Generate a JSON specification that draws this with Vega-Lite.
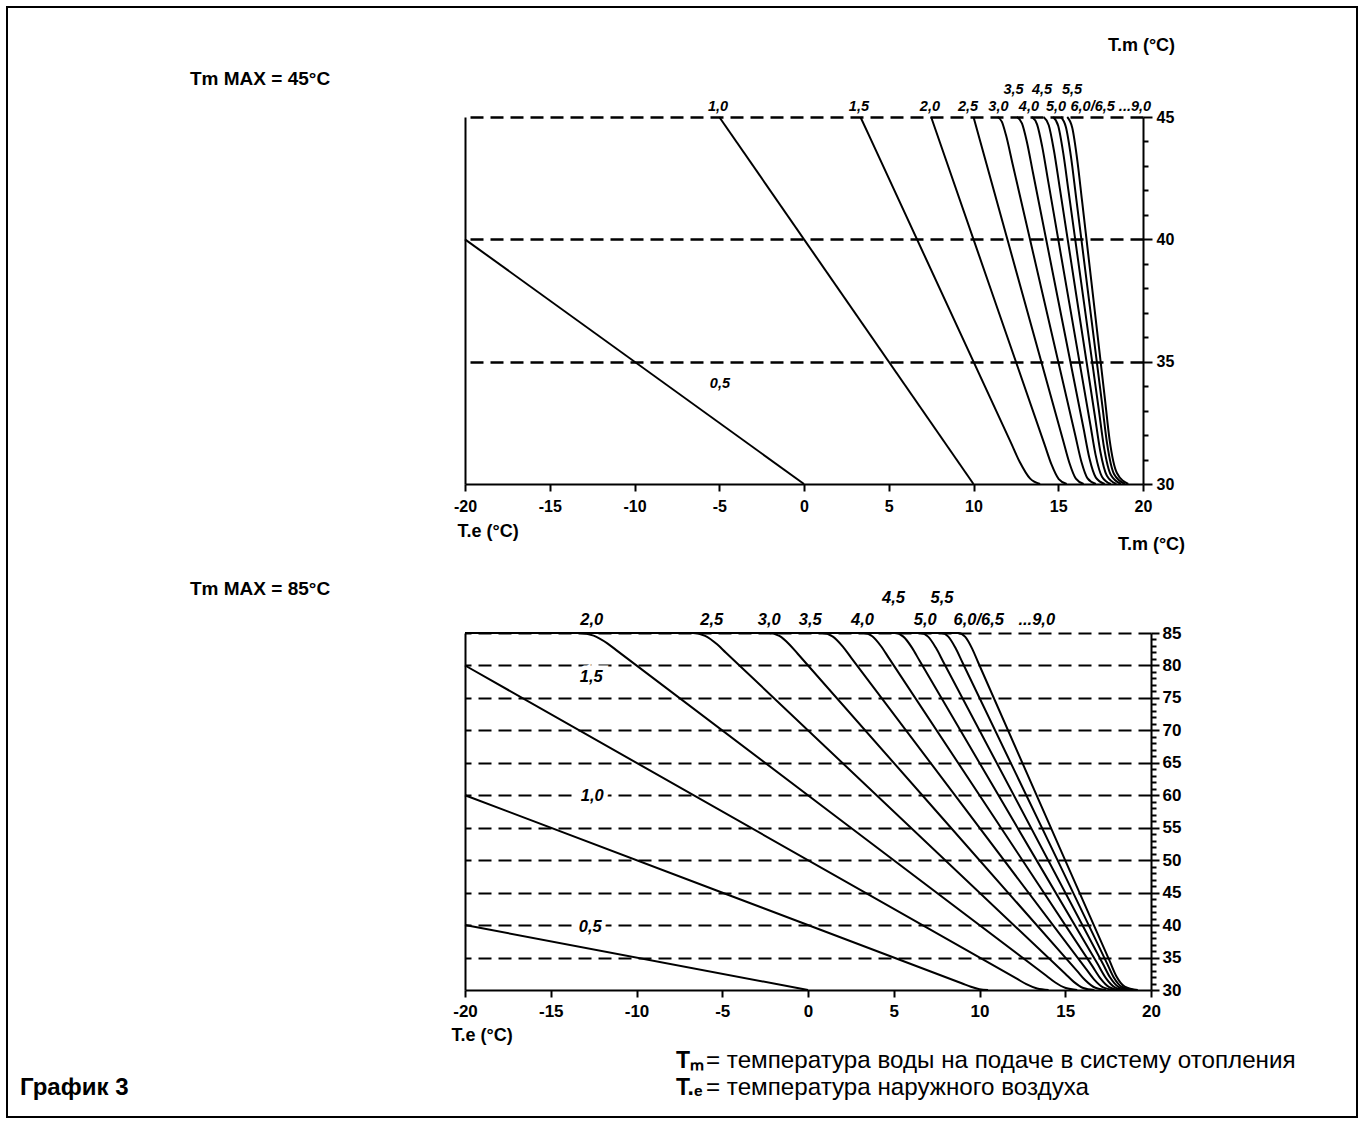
{
  "$schema": "https://vega.github.io/schema/vega-lite/v6.json",
  "padding": {"left": 6, "top": 6, "right": 6, "bottom": 6},
  "background": "white",
  "config": {"view": {"stroke": null}, "font": "Liberation Sans"},
  "datasets": {
    "top": [
      {"k": "0,5", "te": -20, "tm": 40}, {"k": "0,5", "te": 0, "tm": 30},
      {"k": "1,0", "te": -5, "tm": 45}, {"k": "1,0", "te": 10, "tm": 30},
      {"k": "1,5", "te": 3.33, "tm": 45}, {"k": "1,5", "te": 3.8, "tm": 44.3}, {"k": "1,5", "te": 12.2, "tm": 31.7}, {"k": "1,5", "te": 12.73, "tm": 30.9}, {"k": "1,5", "te": 13.33, "tm": 30.23}, {"k": "1,5", "te": 13.93, "tm": 30},
      {"k": "2,0", "te": 7.5, "tm": 45}, {"k": "2,0", "te": 8.0, "tm": 44.0}, {"k": "2,0", "te": 14.2, "tm": 31.6}, {"k": "2,0", "te": 14.6, "tm": 30.8}, {"k": "2,0", "te": 15.03, "tm": 30.2}, {"k": "2,0", "te": 15.5, "tm": 30},
      {"k": "2,5", "te": 10, "tm": 45}, {"k": "2,5", "te": 10.4, "tm": 44.0}, {"k": "2,5", "te": 15.3, "tm": 31.75}, {"k": "2,5", "te": 15.65, "tm": 30.88}, {"k": "2,5", "te": 16.04, "tm": 30.22}, {"k": "2,5", "te": 16.5, "tm": 30},
      {"k": "3,0", "te": 11.42, "tm": 45}, {"k": "3,0", "te": 11.67, "tm": 44.81}, {"k": "3,0", "te": 11.92, "tm": 44.25}, {"k": "3,0", "te": 12.3, "tm": 43.1}, {"k": "3,0", "te": 16.0, "tm": 32.0}, {"k": "3,0", "te": 16.37, "tm": 30.9}, {"k": "3,0", "te": 16.73, "tm": 30.23}, {"k": "3,0", "te": 17.22, "tm": 30},
      {"k": "3,5", "te": 12.56, "tm": 45}, {"k": "3,5", "te": 12.86, "tm": 44.74}, {"k": "3,5", "te": 13.16, "tm": 43.95}, {"k": "3,5", "te": 13.5, "tm": 42.75}, {"k": "3,5", "te": 16.5, "tm": 32.25}, {"k": "3,5", "te": 16.84, "tm": 31.05}, {"k": "3,5", "te": 17.22, "tm": 30.26}, {"k": "3,5", "te": 17.74, "tm": 30},
      {"k": "4,0", "te": 13.45, "tm": 45}, {"k": "4,0", "te": 13.75, "tm": 44.7}, {"k": "4,0", "te": 14.05, "tm": 43.8}, {"k": "4,0", "te": 14.4, "tm": 42.4}, {"k": "4,0", "te": 16.9, "tm": 32.4}, {"k": "4,0", "te": 17.2, "tm": 31.2}, {"k": "4,0", "te": 17.58, "tm": 30.3}, {"k": "4,0", "te": 18.1, "tm": 30},
      {"k": "4,5", "te": 14.14, "tm": 45}, {"k": "4,5", "te": 14.44, "tm": 44.66}, {"k": "4,5", "te": 14.74, "tm": 43.65}, {"k": "4,5", "te": 15.1, "tm": 42.05}, {"k": "4,5", "te": 17.15, "tm": 32.83}, {"k": "4,5", "te": 17.48, "tm": 31.34}, {"k": "4,5", "te": 17.87, "tm": 30.34}, {"k": "4,5", "te": 18.43, "tm": 30},
      {"k": "5,0", "te": 14.7, "tm": 45}, {"k": "5,0", "te": 15.0, "tm": 44.63}, {"k": "5,0", "te": 15.3, "tm": 43.5}, {"k": "5,0", "te": 15.6, "tm": 42.0}, {"k": "5,0", "te": 17.4, "tm": 33.0}, {"k": "5,0", "te": 17.7, "tm": 31.5}, {"k": "5,0", "te": 18.1, "tm": 30.38}, {"k": "5,0", "te": 18.7, "tm": 30},
      {"k": "5,5", "te": 15.15, "tm": 45}, {"k": "5,5", "te": 15.45, "tm": 44.59}, {"k": "5,5", "te": 15.75, "tm": 43.38}, {"k": "5,5", "te": 16.05, "tm": 41.73}, {"k": "5,5", "te": 17.6, "tm": 33.2}, {"k": "5,5", "te": 17.88, "tm": 31.66}, {"k": "5,5", "te": 18.29, "tm": 30.41}, {"k": "5,5", "te": 18.93, "tm": 30},
      {"k": "6,0", "te": 15.53, "tm": 45}, {"k": "6,0", "te": 15.83, "tm": 44.55}, {"k": "6,0", "te": 16.13, "tm": 43.2}, {"k": "6,0", "te": 16.4, "tm": 41.6}, {"k": "6,0", "te": 17.75, "tm": 33.5}, {"k": "6,0", "te": 18.03, "tm": 31.8}, {"k": "6,0", "te": 18.46, "tm": 30.45}, {"k": "6,0", "te": 19.13, "tm": 30}
    ],
    "bottom": [
      {"k": "0,5", "te": -20, "tm": 40}, {"k": "0,5", "te": 0, "tm": 30},
      {"k": "1,0", "te": -20, "tm": 60}, {"k": "1,0", "te": 9.0, "tm": 31.0}, {"k": "1,0", "te": 9.5, "tm": 30.5}, {"k": "1,0", "te": 10.0, "tm": 30.13}, {"k": "1,0", "te": 10.5, "tm": 30},
      {"k": "1,5", "te": -20, "tm": 80}, {"k": "1,5", "te": 12.2, "tm": 31.7}, {"k": "1,5", "te": 12.73, "tm": 30.9}, {"k": "1,5", "te": 13.36, "tm": 30.23}, {"k": "1,5", "te": 14.03, "tm": 30},
      {"k": "2,0", "te": -20, "tm": 85}, {"k": "2,0", "te": -13.3, "tm": 85}, {"k": "2,0", "te": -12.5, "tm": 84.6}, {"k": "2,0", "te": -11.7, "tm": 83.4}, {"k": "2,0", "te": -11.2, "tm": 82.4}, {"k": "2,0", "te": 13.9, "tm": 32.2}, {"k": "2,0", "te": 14.4, "tm": 31.2}, {"k": "2,0", "te": 15.03, "tm": 30.3}, {"k": "2,0", "te": 15.7, "tm": 30},
      {"k": "2,5", "te": -20, "tm": 85}, {"k": "2,5", "te": -6.7, "tm": 85}, {"k": "2,5", "te": -6.0, "tm": 84.56}, {"k": "2,5", "te": -5.3, "tm": 83.25}, {"k": "2,5", "te": -4.8, "tm": 82.0}, {"k": "2,5", "te": 15.0, "tm": 32.5}, {"k": "2,5", "te": 15.5, "tm": 31.25}, {"k": "2,5", "te": 16.05, "tm": 30.31}, {"k": "2,5", "te": 16.7, "tm": 30},
      {"k": "3,0", "te": -20, "tm": 85}, {"k": "3,0", "te": -2.27, "tm": 85}, {"k": "3,0", "te": -1.67, "tm": 84.55}, {"k": "3,0", "te": -1.07, "tm": 83.2}, {"k": "3,0", "te": -0.6, "tm": 81.8}, {"k": "3,0", "te": 15.7, "tm": 32.9}, {"k": "3,0", "te": 16.17, "tm": 31.5}, {"k": "3,0", "te": 16.72, "tm": 30.38}, {"k": "3,0", "te": 17.37, "tm": 30},
      {"k": "3,5", "te": -20, "tm": 85}, {"k": "3,5", "te": 0.83, "tm": 85}, {"k": "3,5", "te": 1.43, "tm": 84.48}, {"k": "3,5", "te": 2.03, "tm": 82.9}, {"k": "3,5", "te": 2.5, "tm": 81.25}, {"k": "3,5", "te": 16.2, "tm": 33.3}, {"k": "3,5", "te": 16.69, "tm": 31.59}, {"k": "3,5", "te": 17.21, "tm": 30.39}, {"k": "3,5", "te": 17.84, "tm": 30},
      {"k": "4,0", "te": -20, "tm": 85}, {"k": "4,0", "te": 3.25, "tm": 85}, {"k": "4,0", "te": 3.75, "tm": 84.5}, {"k": "4,0", "te": 4.25, "tm": 83.0}, {"k": "4,0", "te": 4.7, "tm": 81.2}, {"k": "4,0", "te": 16.6, "tm": 33.6}, {"k": "4,0", "te": 17.05, "tm": 31.8}, {"k": "4,0", "te": 17.56, "tm": 30.45}, {"k": "4,0", "te": 18.2, "tm": 30},
      {"k": "4,5", "te": -20, "tm": 85}, {"k": "4,5", "te": 5.06, "tm": 85}, {"k": "4,5", "te": 5.56, "tm": 84.44}, {"k": "4,5", "te": 6.06, "tm": 82.75}, {"k": "4,5", "te": 6.5, "tm": 80.75}, {"k": "4,5", "te": 16.9, "tm": 33.95}, {"k": "4,5", "te": 17.38, "tm": 31.79}, {"k": "4,5", "te": 17.87, "tm": 30.45}, {"k": "4,5", "te": 18.53, "tm": 30},
      {"k": "5,0", "te": -20, "tm": 85}, {"k": "5,0", "te": 6.55, "tm": 85}, {"k": "5,0", "te": 7.0, "tm": 84.44}, {"k": "5,0", "te": 7.45, "tm": 82.75}, {"k": "5,0", "te": 7.9, "tm": 80.5}, {"k": "5,0", "te": 17.2, "tm": 34.0}, {"k": "5,0", "te": 17.6, "tm": 32.0}, {"k": "5,0", "te": 18.1, "tm": 30.5}, {"k": "5,0", "te": 18.8, "tm": 30},
      {"k": "5,5", "te": -20, "tm": 85}, {"k": "5,5", "te": 7.78, "tm": 85}, {"k": "5,5", "te": 8.18, "tm": 84.45}, {"k": "5,5", "te": 8.58, "tm": 82.8}, {"k": "5,5", "te": 9.0, "tm": 80.5}, {"k": "5,5", "te": 17.45, "tm": 34.03}, {"k": "5,5", "te": 17.83, "tm": 31.94}, {"k": "5,5", "te": 18.31, "tm": 30.48}, {"k": "5,5", "te": 19.03, "tm": 30},
      {"k": "6,0", "te": -20, "tm": 85}, {"k": "6,0", "te": 8.77, "tm": 85}, {"k": "6,0", "te": 9.17, "tm": 84.4}, {"k": "6,0", "te": 9.57, "tm": 82.6}, {"k": "6,0", "te": 9.95, "tm": 80.3}, {"k": "6,0", "te": 17.6, "tm": 34.4}, {"k": "6,0", "te": 17.98, "tm": 32.12}, {"k": "6,0", "te": 18.47, "tm": 30.53}, {"k": "6,0", "te": 19.23, "tm": 30}
    ],
    "topLabels": [
      {"label": "1,0", "te": -5.07, "tm": 45.42},
      {"label": "1,5", "te": 3.24, "tm": 45.42},
      {"label": "2,0", "te": 7.43, "tm": 45.42},
      {"label": "2,5", "te": 9.68, "tm": 45.42},
      {"label": "3,0", "te": 11.47, "tm": 45.42},
      {"label": "4,0", "te": 13.27, "tm": 45.42},
      {"label": "5,0", "te": 14.87, "tm": 45.42},
      {"label": "6,0/6,5 ...9,0", "te": 18.1, "tm": 45.42},
      {"label": "3,5", "te": 12.36, "tm": 46.1},
      {"label": "4,5", "te": 14.04, "tm": 46.1},
      {"label": "5,5", "te": 15.81, "tm": 46.1},
      {"label": "0,5", "te": -4.96, "tm": 34.09}
    ],
    "bottomLabels": [
      {"label": "2,0", "te": -12.61, "tm": 87.0},
      {"label": "2,5", "te": -5.61, "tm": 87.0},
      {"label": "3,0", "te": -2.26, "tm": 87.0},
      {"label": "3,5", "te": 0.13, "tm": 87.0},
      {"label": "4,0", "te": 3.18, "tm": 87.0},
      {"label": "5,0", "te": 6.84, "tm": 87.0},
      {"label": "6,0/6,5", "te": 9.96, "tm": 87.0},
      {"label": "...9,0", "te": 13.34, "tm": 87.0},
      {"label": "4,5", "te": 4.99, "tm": 90.4},
      {"label": "5,5", "te": 7.81, "tm": 90.4},
      {"label": "1,5", "te": -12.64, "tm": 78.23},
      {"label": "1,0", "te": -12.58, "tm": 59.89},
      {"label": "0,5", "te": -12.7, "tm": 39.75}
    ]
  },
  "columns": 5,
  "spacing": 0,
  "bounds": "flush",
  "align": "each",
  "concat": [
    {"width": 2, "height": 2, "data": {"values": []}, "mark": "point", "view": {"fill": "black", "stroke": null}},
    {"width": 457, "height": 2, "data": {"values": []}, "mark": "point", "view": {"fill": "black", "stroke": null}},
    {"width": 686, "height": 2, "data": {"values": []}, "mark": "point", "view": {"fill": "black", "stroke": null}},
    {"width": 205, "height": 2, "data": {"values": []}, "mark": "point", "view": {"fill": "black", "stroke": null}},
    {"width": 2, "height": 2, "data": {"values": []}, "mark": "point", "view": {"fill": "black", "stroke": null}},

    {"width": 2, "height": 109, "data": {"values": []}, "mark": "point", "view": {"fill": "black", "stroke": null}},
    {
      "width": 457, "height": 109, "data": {"values": []}, "mark": "point",
      "title": {"text": "Tm MAX = 45°C", "anchor": "start", "frame": "group", "orient": "top", "offset": 0, "dx": 182, "dy": 96, "baseline": "alphabetic", "font": "Liberation Sans", "fontSize": 19, "fontWeight": "bold", "color": "black"}
    },
    {"width": 686, "height": 109, "data": {"values": []}, "mark": "point"},
    {"width": 205, "height": 109, "data": {"values": []}, "mark": "point"},
    {"width": 2, "height": 109, "data": {"values": []}, "mark": "point", "view": {"fill": "black", "stroke": null}},

    {"width": 2, "height": 367, "data": {"values": []}, "mark": "point", "view": {"fill": "black", "stroke": null}},
    {"width": 457, "height": 367, "data": {"values": []}, "mark": "point"},
    {
      "width": 678, "height": 367,
      "resolve": {"axis": {"y": "independent"}},
      "encoding": {
        "x": {
          "field": "te", "type": "quantitative",
          "scale": {"domain": [-20, 20], "nice": false, "zero": false},
          "axis": {
            "values": [-20, -15, -10, -5, 0, 5, 10, 15, 20],
            "labelExpr": "toString(datum.value)",
            "labelFlush": false, "labelOverlap": false,
            "labelFont": "Liberation Sans", "labelFontSize": 16, "labelFontWeight": "bold", "labelColor": "black", "labelPadding": 7,
            "tickSize": 7, "tickWidth": 2, "tickColor": "black",
            "domainColor": "black", "domainWidth": 2, "grid": false,
            "title": "T.e (°C)", "titleX": -8, "titleY": 47, "titleAlign": "left", "titleBaseline": "middle", "titleAngle": 0,
            "titleFont": "Liberation Sans", "titleFontSize": 18, "titleFontWeight": "bold", "titleColor": "black"
          }
        }
      },
      "layer": [
        {
          "data": {"name": "top"},
          "mark": {"type": "line", "color": "black", "strokeWidth": 2, "interpolate": "monotone"},
          "encoding": {
            "y": {
              "field": "tm", "type": "quantitative",
              "scale": {"domain": [30, 45], "nice": false, "zero": false},
              "axis": {
                "orient": "right",
                "values": [30, 31, 32, 33, 34, 35, 36, 37, 38, 39, 40, 41, 42, 43, 44, 45],
                "labelExpr": "datum.value % 5 === 0 ? toString(datum.value) : ''",
                "labelOverlap": false,
                "labelFont": "Liberation Sans", "labelFontSize": 16, "labelFontWeight": "bold", "labelColor": "black", "labelPadding": 4,
                "tickSize": {"condition": {"test": "datum.value % 5 === 0", "value": 9}, "value": 5},
                "tickWidth": 2, "tickColor": "black",
                "domainColor": "black", "domainWidth": 2,
                "grid": true, "gridColor": "black", "gridDash": [13, 7], "gridWidth": 2.5,
                "gridOpacity": {"condition": {"test": "datum.value % 5 === 0 && datum.value > 30", "value": 1}, "value": 0},
                "title": "T.m (°C)", "titleX": -2, "titleY": -72, "titleAlign": "center", "titleBaseline": "middle", "titleAngle": 0,
                "titleFont": "Liberation Sans", "titleFontSize": 18, "titleFontWeight": "bold", "titleColor": "black"
              }
            },
            "detail": {"field": "k"}
          }
        },
        {
          "data": {"name": "topLabels"},
          "mark": {"type": "text", "font": "Liberation Sans", "fontSize": 14.5, "fontStyle": "italic", "fontWeight": "bold", "color": "black", "align": "center", "baseline": "middle"},
          "encoding": {
            "y": {
              "field": "tm", "type": "quantitative",
              "scale": {"domain": [30, 45], "nice": false, "zero": false},
              "axis": {"orient": "left", "labels": false, "ticks": false, "grid": false, "title": null, "domainColor": "black", "domainWidth": 2}
            },
            "text": {"field": "label"}
          }
        }
      ]
    },
    {"width": 205, "height": 367, "data": {"values": []}, "mark": "point"},
    {"width": 2, "height": 367, "data": {"values": []}, "mark": "point", "view": {"fill": "black", "stroke": null}},

    {"width": 2, "height": 149, "data": {"values": []}, "mark": "point", "view": {"fill": "black", "stroke": null}},
    {
      "width": 457, "height": 149, "data": {"values": []}, "mark": "point",
      "title": {"text": "Tm MAX = 85°C", "anchor": "start", "frame": "group", "orient": "top", "offset": 0, "dx": 182, "dy": 130, "baseline": "alphabetic", "font": "Liberation Sans", "fontSize": 19, "fontWeight": "bold", "color": "black"}
    },
    {"width": 686, "height": 149, "data": {"values": []}, "mark": "point"},
    {"width": 205, "height": 149, "data": {"values": []}, "mark": "point"},
    {"width": 2, "height": 149, "data": {"values": []}, "mark": "point", "view": {"fill": "black", "stroke": null}},

    {"width": 2, "height": 357, "data": {"values": []}, "mark": "point", "view": {"fill": "black", "stroke": null}},
    {"width": 457, "height": 357, "data": {"values": []}, "mark": "point"},
    {
      "width": 686, "height": 357,
      "resolve": {"axis": {"y": "independent"}},
      "encoding": {
        "x": {
          "field": "te", "type": "quantitative",
          "scale": {"domain": [-20, 20], "nice": false, "zero": false},
          "axis": {
            "values": [-20, -15, -10, -5, 0, 5, 10, 15, 20],
            "labelExpr": "toString(datum.value)",
            "labelFlush": false, "labelOverlap": false,
            "labelFont": "Liberation Sans", "labelFontSize": 17, "labelFontWeight": "bold", "labelColor": "black", "labelPadding": 6,
            "tickSize": 7, "tickWidth": 2, "tickColor": "black",
            "domainColor": "black", "domainWidth": 2, "grid": false,
            "title": "T.e (°C)", "titleX": -14, "titleY": 45, "titleAlign": "left", "titleBaseline": "middle", "titleAngle": 0,
            "titleFont": "Liberation Sans", "titleFontSize": 18, "titleFontWeight": "bold", "titleColor": "black"
          }
        }
      },
      "layer": [
        {
          "data": {"name": "bottom"},
          "mark": {"type": "line", "color": "black", "strokeWidth": 2, "interpolate": "monotone"},
          "encoding": {
            "y": {
              "field": "tm", "type": "quantitative",
              "scale": {"domain": [30, 85], "nice": false, "zero": false},
              "axis": {
                "orient": "right",
                "values": [30, 31, 32, 33, 34, 35, 36, 37, 38, 39, 40, 41, 42, 43, 44, 45, 46, 47, 48, 49, 50, 51, 52, 53, 54, 55, 56, 57, 58, 59, 60, 61, 62, 63, 64, 65, 66, 67, 68, 69, 70, 71, 72, 73, 74, 75, 76, 77, 78, 79, 80, 81, 82, 83, 84, 85],
                "labelExpr": "datum.value % 5 === 0 ? toString(datum.value) : ''",
                "labelOverlap": false,
                "labelFont": "Liberation Sans", "labelFontSize": 17, "labelFontWeight": "bold", "labelColor": "black", "labelPadding": 3,
                "tickSize": {"condition": {"test": "datum.value % 5 === 0", "value": 8}, "value": 5},
                "tickWidth": 2, "tickColor": "black",
                "domainColor": "black", "domainWidth": 2,
                "grid": true, "gridColor": "black", "gridDash": [13, 7], "gridWidth": 2,
                "gridOpacity": {"condition": {"test": "datum.value % 5 === 0 && datum.value > 30", "value": 1}, "value": 0},
                "title": "T.m (°C)", "titleX": 0, "titleY": -89, "titleAlign": "center", "titleBaseline": "middle", "titleAngle": 0,
                "titleFont": "Liberation Sans", "titleFontSize": 18, "titleFontWeight": "bold", "titleColor": "black"
              }
            },
            "detail": {"field": "k"}
          }
        },
        {
          "data": {"name": "bottomLabels"},
          "mark": {"type": "text", "font": "Liberation Sans", "fontSize": 16.5, "fontStyle": "italic", "fontWeight": "bold", "color": "white", "stroke": "white", "strokeWidth": 9, "align": "center", "baseline": "middle"},
          "encoding": {
            "y": {
              "field": "tm", "type": "quantitative",
              "scale": {"domain": [30, 85], "nice": false, "zero": false},
              "axis": {"orient": "left", "labels": false, "ticks": false, "grid": false, "title": null, "domainColor": "black", "domainWidth": 2}
            },
            "text": {"field": "label"}
          }
        },
        {
          "data": {"name": "bottomLabels"},
          "mark": {"type": "text", "font": "Liberation Sans", "fontSize": 16.5, "fontStyle": "italic", "fontWeight": "bold", "color": "black", "align": "center", "baseline": "middle"},
          "encoding": {
            "y": {"field": "tm", "type": "quantitative", "scale": {"domain": [30, 85], "nice": false, "zero": false}, "axis": null},
            "text": {"field": "label"}
          }
        }
      ]
    },
    {"width": 205, "height": 357, "data": {"values": []}, "mark": "point"},
    {"width": 2, "height": 357, "data": {"values": []}, "mark": "point", "view": {"fill": "black", "stroke": null}},

    {"width": 2, "height": 126, "data": {"values": []}, "mark": "point", "view": {"fill": "black", "stroke": null}},
    {
      "width": 457, "height": 126, "data": {"values": []}, "mark": "point",
      "title": {"text": "График 3", "anchor": "start", "frame": "group", "orient": "top", "offset": 0, "dx": 12, "dy": 129, "baseline": "alphabetic", "font": "Liberation Sans", "fontSize": 24, "fontWeight": "bold", "color": "black"}
    },
    {
      "width": 686, "height": 126, "data": {"values": []}, "mark": "point",
      "title": {"text": ["Tₘ", "T.ₑ"], "anchor": "start", "frame": "group", "orient": "top", "offset": 0, "dx": 211, "dy": 128, "lineHeight": 27, "baseline": "alphabetic", "font": "Liberation Sans", "fontSize": 23, "fontWeight": "bold", "color": "black"}
    },
    {
      "width": 205, "height": 126, "data": {"values": []}, "mark": "point",
      "title": {"text": ["= температура воды на подаче в систему отопления", "= температура наружного воздуха"], "anchor": "start", "frame": "group", "orient": "top", "offset": 0, "dx": -445, "dy": 129, "lineHeight": 27, "baseline": "alphabetic", "font": "Liberation Sans", "fontSize": 24.2, "fontWeight": "normal", "color": "black"}
    },
    {"width": 2, "height": 126, "data": {"values": []}, "mark": "point", "view": {"fill": "black", "stroke": null}},

    {"width": 2, "height": 2, "data": {"values": []}, "mark": "point", "view": {"fill": "black", "stroke": null}},
    {"width": 457, "height": 2, "data": {"values": []}, "mark": "point", "view": {"fill": "black", "stroke": null}},
    {"width": 686, "height": 2, "data": {"values": []}, "mark": "point", "view": {"fill": "black", "stroke": null}},
    {"width": 205, "height": 2, "data": {"values": []}, "mark": "point", "view": {"fill": "black", "stroke": null}},
    {"width": 2, "height": 2, "data": {"values": []}, "mark": "point", "view": {"fill": "black", "stroke": null}}
  ]
}
